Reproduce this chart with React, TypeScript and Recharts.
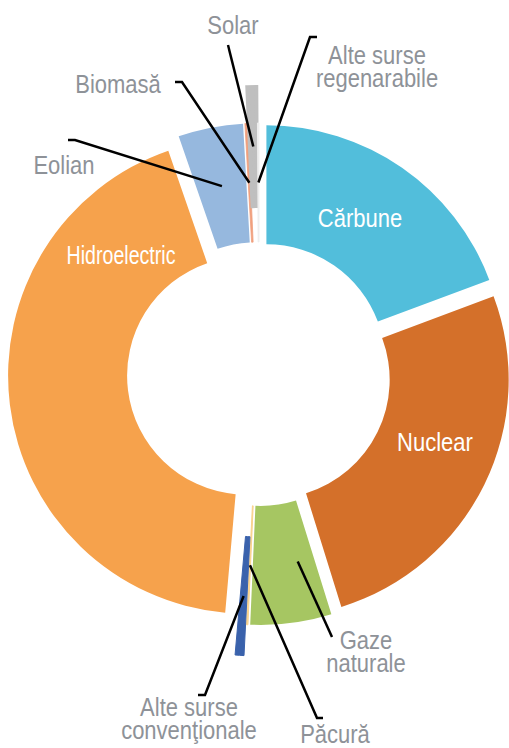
import React from 'react';
import { PieChart, Pie, Sector } from 'recharts';

// ---- data ----
const categories = [
  'Cărbune',
  'Nuclear',
  'Gaze naturale',
  'Păcură',
  'Alte surse convenţionale',
  'Hidroelectric',
  'Eolian',
  'Biomasă',
  'Solar',
  'Alte surse regenarabile',
];
const shares = [19.3, 25.9, 5.5, 0.1, 0.6, 43.3, 4.4, 0.2, 0.6, 0.1];
const labelText = [
  ['Cărbune'],
  ['Nuclear'],
  ['Gaze', 'naturale'],
  ['Păcură'],
  ['Alte surse', 'convenţionale'],
  ['Hidroelectric'],
  ['Eolian'],
  ['Biomasă'],
  ['Solar'],
  ['Alte surse', 'regenarabile'],
];

const data = categories.map((name, i) => ({ name, value: shares[i] }));

// ---- styles / layout ----
const W = 509;
const H = 748;
const CX = 259;
const CY = 374;
const R_IN = 119;
const R_OUT = 238;

const COLORS = [
  '#52BEDB',
  '#D4702A',
  '#A6C662',
  '#F9D38F',
  '#3A62AC',
  '#F6A24C',
  '#96B8DE',
  '#F0A07E',
  '#BFBFBF',
  '#EEEEEE',
];
const EXPLODE = [13, 13, 13, 13, 44, 13, 13, 13, 49, 13];
const EDGE = [0, 0, 0, 1, 1, 0, 0, 0.8, 4, 1];

const FONT = "'Liberation Sans', Arial, sans-serif";
const FONT_SIZE = 26.5;
const NARROW = 0.83;
const LINE_GAP = 23;
const TEXT_GREY = '#8E9298';

type LabelStyle = {
  x: number;
  y: number;
  inside?: boolean;
  leader?: [number, number][];
  anchorShift?: number;
  squeeze?: number;
};
const LABELS: LabelStyle[] = [
  { x: 360, y: 227, inside: true },
  { x: 435, y: 451, inside: true },
  { x: 366, y: 649, leader: [[332, 637]], anchorShift: 4.6 },
  { x: 335, y: 743, leader: [[323, 718], [317, 718]] },
  { x: 189, y: 716, leader: [[198, 695], [205, 695]] },
  { x: 121, y: 264, inside: true, squeeze: 0.74 },
  { x: 64, y: 174, leader: [[68, 140], [75, 140]] },
  { x: 118, y: 93, leader: [[175, 82], [182, 82]] },
  { x: 233, y: 34, leader: [[228, 45]] },
  { x: 377, y: 64, leader: [[317, 37], [310, 37]] },
];

const RAD = Math.PI / 180;
const polar = (cx: number, cy: number, r: number, a: number) => ({
  x: cx + r * Math.cos(-a * RAD),
  y: cy + r * Math.sin(-a * RAD),
});

const renderSlice = (p: any) => {
  const i = p.index;
  const mid = (p.startAngle + p.endAngle) / 2;
  const off = polar(0, 0, EXPLODE[i], mid);
  return (
    <Sector
      cx={p.cx + off.x}
      cy={p.cy + off.y}
      innerRadius={p.innerRadius}
      outerRadius={p.outerRadius}
      startAngle={p.startAngle}
      endAngle={p.endAngle}
      fill={COLORS[i]}
      stroke={EDGE[i] > 0 ? COLORS[i] : 'none'}
      strokeWidth={EDGE[i]}
    />
  );
};

const renderCaption = (p: any) => {
  const i = p.index;
  const st = LABELS[i];
  const mid = (p.startAngle + p.endAngle) / 2;
  const off = polar(0, 0, EXPLODE[i], mid);
  const anchor = polar(
    p.cx + off.x,
    p.cy + off.y,
    (p.innerRadius + p.outerRadius) / 2,
    mid + (st.anchorShift || 0)
  );
  const lines = labelText[i];
  const pts = st.leader ? [...st.leader, [anchor.x, anchor.y]] : null;
  const sx = st.squeeze ?? NARROW;
  return (
    <g>
      {pts && (
        <polyline
          points={pts.map((q) => q.join(',')).join(' ')}
          fill="none"
          stroke="#000"
          strokeWidth={2.5}
        />
      )}
      <text
        x={0}
        y={0}
        transform={`translate(${st.x},${st.y}) scale(${sx},1)`}
        textAnchor="middle"
        fill={st.inside ? '#FFFFFF' : TEXT_GREY}
        fontSize={FONT_SIZE}
        fontFamily={FONT}
        stroke="none"
      >
        {lines.map((t, k) => (
          <tspan key={k} x={0} dy={k === 0 ? 0 : LINE_GAP}>
            {t}
          </tspan>
        ))}
      </text>
    </g>
  );
};

export default function App() {
  return (
    <div style={{ position: 'absolute', left: 0, top: 0, width: W, height: H, background: '#fff' }}>
      <PieChart width={W} height={H} margin={{ top: 0, right: 0, bottom: 0, left: 0 }}>
        <Pie
          data={data}
          dataKey="value"
          nameKey="name"
          cx={CX}
          cy={CY}
          innerRadius={R_IN}
          outerRadius={R_OUT}
          startAngle={90}
          endAngle={-270}
          fill="none"
          stroke="none"
          isAnimationActive={false}
          labelLine={false}
          label={renderSlice}
        />
        <Pie
          data={data}
          dataKey="value"
          nameKey="name"
          cx={CX}
          cy={CY}
          innerRadius={R_IN}
          outerRadius={R_OUT}
          startAngle={90}
          endAngle={-270}
          fill="none"
          stroke="none"
          isAnimationActive={false}
          labelLine={false}
          label={renderCaption}
        />
      </PieChart>
    </div>
  );
}
